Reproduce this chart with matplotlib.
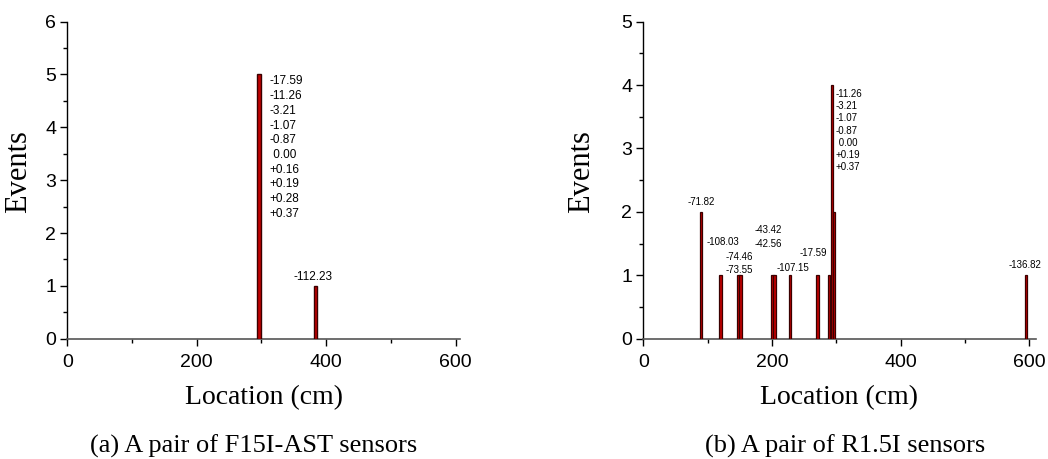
import matplotlib
matplotlib.use('Agg')
import matplotlib.pyplot as plt
from matplotlib.ticker import MultipleLocator

# event counts per location, F15I-AST pair
left_loc = [296, 384]
left_events = [5, 1]
left_main_vals = ['-17.59', '-11.26', '-3.21', '-1.07', '-0.87', ' 0.00',
                  '+0.16', '+0.19', '+0.28', '+0.37']
left_side_val = '-112.23'

# event counts per location, R1.5I pair
right_loc = [90, 120, 148, 151, 201, 204, 228, 271, 289, 293, 296, 595]
right_events = [2, 1, 1, 1, 1, 1, 1, 1, 1, 4, 2, 1]
right_main_vals = ['-11.26', '-3.21', '-1.07', '-0.87', ' 0.00', '+0.19', '+0.37']
right_side_vals = ['-71.82', '-108.03', '-74.46', '-73.55', '-43.42', '-42.56',
                   '-107.15', '-17.59', '-136.82']

sans = 'Liberation Sans'
serif = 'Liberation Serif'
face = '#c00000'
edge = '#3a0000'

fig = plt.figure(figsize=(10.48, 4.59), dpi=100)
ax1 = fig.add_axes([0.0642, 0.262, 0.3748, 0.691])
ax2 = fig.add_axes([0.6138, 0.262, 0.3744, 0.691])


def style_axes(ax, ymax, xmax, ylab_x):
    ax.set_xlim(0, xmax)
    ax.set_ylim(0, ymax)
    for s in ['top', 'right']:
        ax.spines[s].set_visible(False)
    ax.spines['left'].set_color('black')
    ax.spines['bottom'].set_color('#555555')
    ax.spines['left'].set_linewidth(1.0)
    ax.spines['bottom'].set_linewidth(1.2)
    ax.xaxis.set_major_locator(MultipleLocator(200))
    ax.xaxis.set_minor_locator(MultipleLocator(100))
    ax.yaxis.set_major_locator(MultipleLocator(1))
    ax.yaxis.set_minor_locator(MultipleLocator(0.5))
    ax.tick_params(which='major', direction='out', length=5, width=1,
                   labelsize=14)
    ax.tick_params(axis='x', which='major', pad=6)
    ax.tick_params(axis='y', which='major', pad=3)
    ax.tick_params(which='minor', direction='out', length=3, width=1)
    for lab in ax.get_xticklabels() + ax.get_yticklabels():
        lab.set_fontfamily(sans)
    ax.set_xlabel('Location (cm)', fontfamily=serif, fontsize=20, va='center')
    ax.xaxis.set_label_coords(0.5, -0.185)
    ax.set_ylabel('Events', fontfamily=serif, fontsize=22, va='center')
    ax.yaxis.set_label_coords(ylab_x, 0.526)


# left panel
widths = [7, 4.5]
ax1.bar(left_loc, left_events, width=widths, color=face, edgecolor=edge,
        linewidth=1.0, zorder=3)
style_axes(ax1, 6, 607, -0.123)
ax1.text(313, 4.98, '\n'.join(left_main_vals), fontfamily=sans, fontsize=8.5,
         ha='left', va='top', linespacing=1.3)
ax1.text(380, 1.17, left_side_val, fontfamily=sans, fontsize=8.5,
         ha='center', va='center')

# right panel
ax2.bar(right_loc, right_events, width=3.5, color=face, edgecolor=edge,
        linewidth=0.9, zorder=3)
style_axes(ax2, 5, 610, -0.157)
ax2.text(299.5, 3.94, '\n'.join(right_main_vals), fontfamily=sans, fontsize=7,
         ha='left', va='top', linespacing=1.28)
side_xy = [(90, 2.16), (123.5, 1.52), (149, 1.29), (149, 1.09), (195, 1.71),
           (195, 1.50), (233, 1.11), (264.5, 1.35), (593.5, 1.17)]
for val, (x, y) in zip(right_side_vals, side_xy):
    ax2.text(x, y, val, fontfamily=sans, fontsize=7, ha='center', va='center')

fig.text(90 / 1048, 0.027, '(a) A pair of F15I-AST sensors',
         fontfamily=serif, fontsize=19, ha='left', va='center')
fig.text(705 / 1048, 0.027, '(b) A pair of R1.5I sensors',
         fontfamily=serif, fontsize=19, ha='left', va='center')

fig.savefig('out.png', dpi=100)
